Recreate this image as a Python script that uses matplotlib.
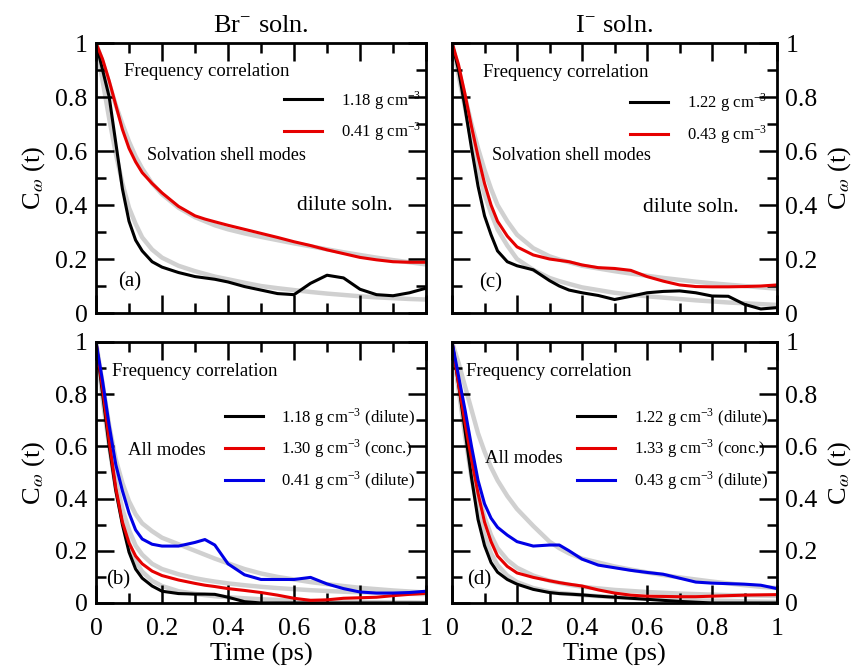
import matplotlib
matplotlib.use('Agg')
import matplotlib.pyplot as plt
from matplotlib.ticker import MultipleLocator, FuncFormatter
from matplotlib.lines import Line2D

plt.rcParams['font.family'] = 'serif'
plt.rcParams['font.serif'] = ['Liberation Serif', 'DejaVu Serif']
plt.rcParams['mathtext.fontset'] = 'stix'

# time grid (ps), shared by every curve
t = [0, .02, .04, .06, .08, .10, .12, .14, .17, .20, .25, .30, .33, .36, .40,
     .45, .50, .55, .60, .65, .70, .75, .80, .85, .90, .95, 1.0]

# (a) Br- solvation shell modes
a_black = [1.0, 0.90, 0.80, 0.63, 0.46, 0.34, 0.27, 0.23, 0.19, 0.17, 0.15, 0.135, 0.13, 0.125,
           0.115, 0.098, 0.085, 0.072, 0.068, 0.11, 0.14, 0.13, 0.088, 0.068, 0.064, 0.075, 0.092]
a_red = [1.0, 0.94, 0.86, 0.77, 0.68, 0.61, 0.56, 0.52, 0.48, 0.445, 0.395, 0.36, 0.348, 0.338,
         0.325, 0.31, 0.295, 0.28, 0.264, 0.25, 0.234, 0.22, 0.206, 0.197, 0.19, 0.188, 0.188]
a_black_fit = [1.0, 0.86, 0.72, 0.59, 0.48, 0.39, 0.33, 0.28, 0.235, 0.205, 0.175, 0.155, 0.145, 0.135,
               0.125, 0.112, 0.1, 0.092, 0.085, 0.078, 0.072, 0.067, 0.062, 0.058, 0.055, 0.052, 0.05]
a_red_fit = [1.0, 0.93, 0.85, 0.77, 0.70, 0.635, 0.58, 0.535, 0.48, 0.44, 0.39, 0.355, 0.34, 0.325,
             0.31, 0.295, 0.282, 0.27, 0.258, 0.247, 0.236, 0.225, 0.215, 0.205, 0.196, 0.188, 0.18]

# (c) I- solvation shell modes
c_black = [1.0, 0.90, 0.76, 0.61, 0.47, 0.36, 0.29, 0.23, 0.19, 0.175, 0.16, 0.12, 0.1, 0.085,
           0.075, 0.065, 0.05, 0.062, 0.075, 0.08, 0.082, 0.075, 0.063, 0.062, 0.032, 0.015, 0.02]
c_red = [1.0, 0.92, 0.81, 0.69, 0.58, 0.48, 0.40, 0.34, 0.285, 0.245, 0.215, 0.20, 0.195, 0.19,
         0.178, 0.168, 0.165, 0.158, 0.135, 0.118, 0.104, 0.098, 0.097, 0.097, 0.098, 0.1, 0.104]
c_black_fit = [1.0, 0.88, 0.76, 0.64, 0.53, 0.44, 0.37, 0.31, 0.25, 0.2, 0.16, 0.13, 0.118, 0.108,
               0.095, 0.085, 0.075, 0.068, 0.062, 0.057, 0.052, 0.047, 0.043, 0.039, 0.036, 0.033, 0.03]
c_red_fit = [1.0, 0.9, 0.8, 0.7, 0.61, 0.53, 0.46, 0.4, 0.34, 0.29, 0.24, 0.21, 0.198, 0.188,
             0.175, 0.165, 0.155, 0.146, 0.138, 0.13, 0.123, 0.116, 0.11, 0.105, 0.1, 0.095, 0.09]

# (b) Br- all modes
b_black = [1.0, 0.80, 0.60, 0.43, 0.30, 0.195, 0.13, 0.095, 0.065, 0.045, 0.036, 0.034, 0.034, 0.033,
           0.022, 0.005, 0, 0, 0, 0, 0, 0, 0, 0, 0, 0, 0]
b_red = [1.0, 0.82, 0.62, 0.44, 0.31, 0.23, 0.18, 0.15, 0.122, 0.105, 0.088, 0.075, 0.068, 0.063,
         0.055, 0.048, 0.04, 0.03, 0.018, 0.01, 0.012, 0.018, 0.02, 0.022, 0.028, 0.033, 0.037]
b_blue = [1.0, 0.85, 0.68, 0.53, 0.43, 0.345, 0.28, 0.245, 0.225, 0.218, 0.218, 0.232, 0.243, 0.222,
          0.15, 0.108, 0.09, 0.09, 0.09, 0.098, 0.073, 0.055, 0.042, 0.038, 0.038, 0.04, 0.045]
b_black_fit = [1.0, 0.78, 0.6, 0.44, 0.32, 0.23, 0.16, 0.12, 0.085, 0.065, 0.045, 0.035, 0.03, 0.026,
               0.022, 0.018, 0.014, 0.012, 0.01, 0.008, 0.006, 0.005, 0.004, 0.003, 0.002, 0.002, 0.001]
b_red_fit = [1.0, 0.8, 0.62, 0.47, 0.36, 0.28, 0.22, 0.185, 0.15, 0.13, 0.11, 0.095, 0.088, 0.082,
             0.075, 0.068, 0.062, 0.057, 0.053, 0.049, 0.046, 0.043, 0.041, 0.039, 0.037, 0.035, 0.034]
b_blue_fit = [1.0, 0.84, 0.68, 0.55, 0.46, 0.39, 0.34, 0.305, 0.275, 0.25, 0.225, 0.2, 0.185, 0.17,
              0.152, 0.13, 0.113, 0.1, 0.09, 0.08, 0.072, 0.065, 0.058, 0.053, 0.048, 0.044, 0.04]

# (d) I- all modes
d_black = [1.0, 0.84, 0.66, 0.48, 0.32, 0.22, 0.155, 0.118, 0.09, 0.072, 0.052, 0.04, 0.036, 0.034,
           0.031, 0.026, 0.022, 0.018, 0.014, 0.01, 0.006, 0.003, 0, 0, 0, 0, 0]
d_red = [1.0, 0.84, 0.69, 0.55, 0.42, 0.31, 0.235, 0.18, 0.14, 0.115, 0.098, 0.085, 0.078, 0.072,
         0.065, 0.05, 0.038, 0.03, 0.026, 0.025, 0.024, 0.024, 0.026, 0.028, 0.03, 0.031, 0.032]
d_blue = [1.0, 0.87, 0.74, 0.6, 0.47, 0.38, 0.325, 0.29, 0.26, 0.235, 0.218, 0.222, 0.222, 0.2,
          0.168, 0.145, 0.135, 0.125, 0.117, 0.11, 0.095, 0.08, 0.076, 0.074, 0.072, 0.068, 0.055]
d_black_fit = [1.0, 0.82, 0.64, 0.48, 0.35, 0.26, 0.19, 0.145, 0.105, 0.08, 0.057, 0.043, 0.038, 0.035,
               0.03, 0.026, 0.022, 0.019, 0.016, 0.014, 0.012, 0.01, 0.009, 0.008, 0.006, 0.005, 0.004]
d_red_fit = [1.0, 0.83, 0.67, 0.53, 0.42, 0.33, 0.26, 0.21, 0.165, 0.135, 0.105, 0.085, 0.077, 0.07,
             0.062, 0.056, 0.05, 0.046, 0.042, 0.039, 0.036, 0.034, 0.032, 0.03, 0.029, 0.028, 0.027]
d_blue_fit = [1.0, 0.92, 0.83, 0.74, 0.65, 0.58, 0.52, 0.47, 0.41, 0.36, 0.295, 0.235, 0.21, 0.19,
              0.17, 0.155, 0.14, 0.128, 0.117, 0.107, 0.098, 0.09, 0.082, 0.075, 0.068, 0.062, 0.057]

sup = r'$^{\mathregular{-3}}$'
a_labels = ['1.18 g cm' + sup, '0.41 g cm' + sup]
c_labels = ['1.22 g cm' + sup, '0.43 g cm' + sup]
b_labels = ['1.18 g cm' + sup + ' (dilute)', '1.30 g cm' + sup + ' (conc.)', '0.41 g cm' + sup + ' (dilute)']
d_labels = ['1.22 g cm' + sup + ' (dilute)', '1.33 g cm' + sup + ' (conc.)', '0.43 g cm' + sup + ' (dilute)']

GRAY = '#d0d0d0'
RED = '#e60000'
BLUE = '#0000e6'


def style(ax, left_side, bottom_row):
    ax.set_xlim(0, 1)
    ax.set_ylim(0, 1)
    fmt = FuncFormatter(lambda v, p: '%g' % round(v, 1))
    for axis in (ax.xaxis, ax.yaxis):
        axis.set_major_locator(MultipleLocator(0.2))
        axis.set_minor_locator(MultipleLocator(0.1))
        axis.set_major_formatter(fmt)
    ax.tick_params(which='both', direction='in', top=True, right=True, width=1.8,
                   labelsize=18.5, pad=6,
                   labelleft=left_side, labelright=not left_side, labelbottom=bottom_row)
    ax.tick_params(axis='x', pad=11)
    ax.tick_params(which='major', length=13)
    ax.tick_params(which='minor', length=7)
    for s in ax.spines.values():
        s.set_linewidth(2)
    if not left_side:
        ax.yaxis.set_label_position('right')
    ax.set_ylabel(r'C$_{\omega}$ (t)', fontsize=19, labelpad=6)
    if bottom_row:
        ax.set_xlabel('Time (ps)', fontsize=19, labelpad=2)


def curves(ax, fits, series, colors):
    for f in fits:
        ax.plot(t, f, color=GRAY, lw=3.2, zorder=1, solid_capstyle='round')
    for s, c in zip(series, colors):
        ax.plot(t, s, color=c, lw=2.2, zorder=2)


def legend(ax, labels, colors, x0, y0):
    handles = [Line2D([], [], color=c, lw=2.2) for c in colors]
    ax.legend(handles, labels, loc='upper left', bbox_to_anchor=(x0, y0), frameon=False,
              fontsize=12, handlelength=2.3, handletextpad=1.1, labelspacing=0.55,
              borderpad=0, borderaxespad=0)


fig = plt.figure(figsize=(8.61, 6.67), dpi=100)
ax_a = fig.add_axes([0.1115, 0.5307, 0.3833, 0.4048])
ax_c = fig.add_axes([0.525, 0.5307, 0.3775, 0.4048])
ax_b = fig.add_axes([0.1115, 0.0960, 0.3833, 0.3913])
ax_d = fig.add_axes([0.525, 0.0960, 0.3775, 0.3913])

# (a)
curves(ax_a, [a_black_fit, a_red_fit], [a_black, a_red], ['black', RED])
style(ax_a, True, False)
ax_a.set_title(r'Br$^{\mathregular{-}}$ soln.', fontsize=19, pad=8)
ax_a.text(0.085, 0.893, 'Frequency correlation', fontsize=13.5, va='center')
ax_a.text(0.155, 0.585, 'Solvation shell modes', fontsize=13, va='center')
ax_a.text(0.61, 0.40, 'dilute soln.', fontsize=15.5, va='center')
ax_a.text(0.067, 0.115, '(a)', fontsize=15, va='center')
legend(ax_a, a_labels, ['black', RED], 0.57, 0.83)

# (c)
curves(ax_c, [c_black_fit, c_red_fit], [c_black, c_red], ['black', RED])
style(ax_c, False, False)
ax_c.set_title(r'I$^{\mathregular{-}}$ soln.', fontsize=19, pad=8)
ax_c.text(0.094, 0.89, 'Frequency correlation', fontsize=13.5, va='center')
ax_c.text(0.122, 0.585, 'Solvation shell modes', fontsize=13, va='center')
ax_c.text(0.589, 0.39, 'dilute soln.', fontsize=15.5, va='center')
ax_c.text(0.084, 0.11, '(c)', fontsize=15, va='center')
legend(ax_c, c_labels, ['black', RED], 0.548, 0.82)

# (b)
curves(ax_b, [b_black_fit, b_red_fit, b_blue_fit], [b_black, b_red, b_blue], ['black', RED, BLUE])
style(ax_b, True, True)
ax_b.text(0.048, 0.886, 'Frequency correlation', fontsize=13.5, va='center')
ax_b.text(0.098, 0.584, 'All modes', fontsize=13.5, va='center')
ax_b.text(0.032, 0.088, '(b)', fontsize=15, va='center')
legend(ax_b, b_labels, ['black', RED, BLUE], 0.39, 0.755)

# (d)
curves(ax_d, [d_black_fit, d_red_fit, d_blue_fit], [d_black, d_red, d_blue], ['black', RED, BLUE])
style(ax_d, False, True)
ax_d.text(0.043, 0.886, 'Frequency correlation', fontsize=13.5, va='center')
ax_d.text(0.102, 0.554, 'All modes', fontsize=13.5, va='center')
ax_d.text(0.047, 0.088, '(d)', fontsize=15, va='center')
legend(ax_d, d_labels, ['black', RED, BLUE], 0.385, 0.755)

fig.savefig('out.png', dpi=100)
